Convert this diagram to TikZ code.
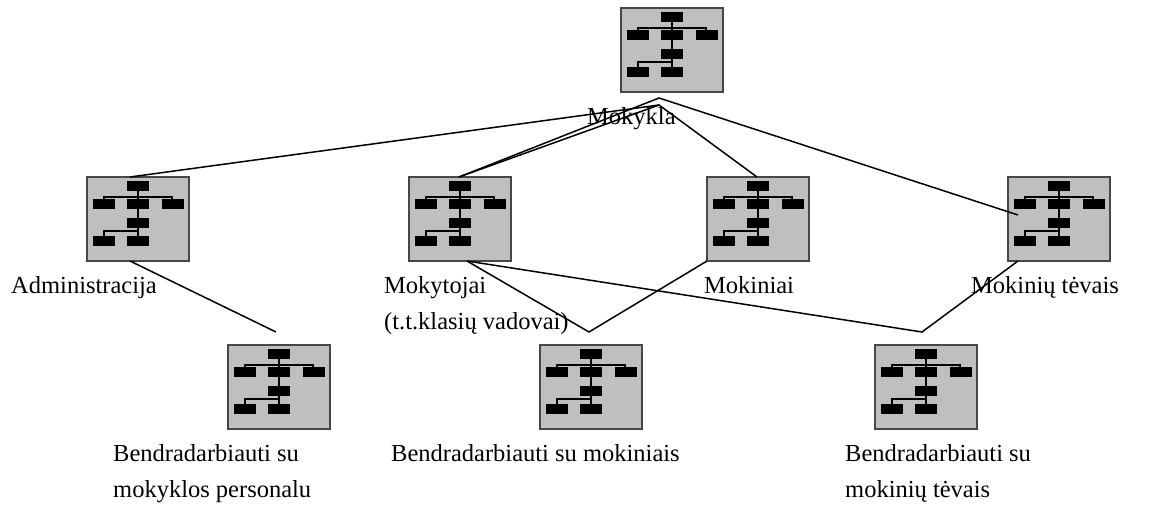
\documentclass[tikz,border=0pt]{standalone}
\usepackage{fontspec}
\setmainfont{Liberation Serif}
\tikzset{
  x=1pt,y=-1pt,
  icon/.style={draw=black!72,line width=1.6pt,fill=black!25,minimum width=102pt,minimum height=84pt,inner sep=0pt,outer sep=0pt,anchor=north west},
  unit/.style={fill=black,draw=none},
  wire/.style={draw=black,line width=1.3pt},
  link/.style={draw=black,line width=1.5pt,line join=miter},
  lab/.style={font=\fontsize{24.5pt}{26pt}\selectfont,inner sep=0pt,anchor=base west,align=left},
  orgchart/.pic={
    \draw[wire] (51,8)--(51,64);
    \draw[wire] (17,27)--(17,20)--(85,20)--(85,27);
    \draw[wire] (17,62)--(17,54)--(51,54);
    \foreach \xa/\ya in {40/4,6/22,40/22,74.5/22,40/40.5,6/58.5,40/58.5}
      \fill[unit] (\xa,\ya) rectangle +(22,10);
  }
}
\begin{document}
\begin{tikzpicture}
\useasboundingbox (0,0) rectangle (1157,506);
\node[icon] (mokykla) at (621,8) {};
\node[icon] (admin) at (87,177) {};
\node[icon] (mokytojai) at (409,177) {};
\node[icon] (mokiniai) at (707,177) {};
\node[icon] (tevai) at (1008,177) {};
\node[icon] (bpers) at (228,345) {};
\node[icon] (bmok) at (540,345) {};
\node[icon] (btev) at (875,345) {};
\foreach \n/\px/\py in {mokykla/621/8,admin/87/177,mokytojai/409/177,mokiniai/707/177,tevai/1008/177,bpers/228/345,bmok/540/345,btev/875/345}
  \pic at (\px,\py) {orgchart};
\coordinate (apexa) at (659,98);
\coordinate (apexb) at (659,105);
\coordinate (tevaiin) at (1018,215);
\coordinate (persup) at (276,332);
\coordinate (mokup) at (589,332);
\coordinate (tevup) at (922,332);
\coordinate (adminup) at (130,177);
\coordinate (mokytup) at (459,177);
\coordinate (mokinup) at (757,177);
\coordinate (admindn) at (130,261);
\coordinate (mokytdn) at (467,261);
\coordinate (mokindn) at (707,261);
\coordinate (tevaidn) at (1018,261);
\draw[link] (adminup)--(apexb)--(mokinup);
\draw[link] (mokytup)--(apexb);
\draw[link] (mokytup)--(apexa)--(tevaiin);
\draw[link] (admindn)--(persup);
\draw[link] (mokytdn)--(mokup)--(mokindn);
\draw[link] (mokytdn)--(tevup)--(tevaidn);
\node[lab] (tmokykla) at (587,124) {Mokykla};
\node[lab] (tadmin) at (11,293) {Administracija};
\node[lab] (tmokyt) at (384,293) {Mokytojai};
\node[lab] (tmokyt2) at (384,329) {(t.t.klasių vadovai)};
\node[lab] (tmokin) at (704,293) {Mokiniai};
\node[lab] (ttev) at (971,293) {Mokinių tėvais};
\node[lab] (tb1a) at (113,461) {Bendradarbiauti su};
\node[lab] (tb1b) at (113,497) {mokyklos personalu};
\node[lab] (tb2) at (391,461) {Bendradarbiauti su mokiniais};
\node[lab] (tb3a) at (845,461) {Bendradarbiauti su};
\node[lab] (tb3b) at (845,497) {mokinių tėvais};
\end{tikzpicture}
\end{document}
